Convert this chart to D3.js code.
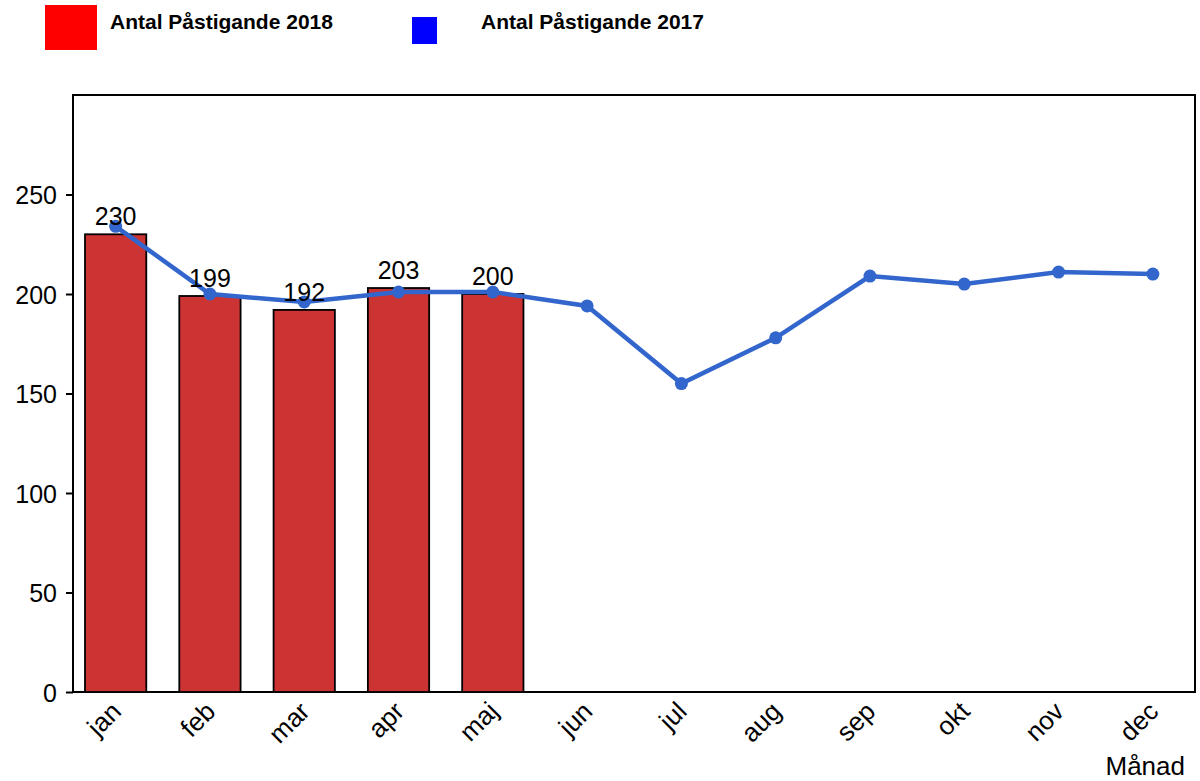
<!DOCTYPE html>
<html>
<head>
<meta charset="utf-8">
<script src="https://cdn.jsdelivr.net/npm/d3@7"></script>
<style>
  body { margin: 0; background: #fff; }
  svg { display: block; font-family: "Liberation Sans", Arial, sans-serif; }
</style>
</head>
<body>
<svg id="chart" width="1200" height="781"></svg>
<script>
// data
var months = ["jan", "feb", "mar", "apr", "maj", "jun", "jul", "aug", "sep", "okt", "nov", "dec"];
var values2018 = [230, 199, 192, 203, 200];
var values2017 = [234, 200, 196, 201, 201, 194, 155, 178, 209, 205, 211, 210];
var yTicks = [0, 50, 100, 150, 200, 250];
var seriesNames = ["Antal Påstigande 2018", "Antal Påstigande 2017"];

var svg = d3.select("#chart");

var plotLeft = 73, plotRight = 1195, plotTop = 95, plotBottom = 692;

var x = d3.scaleBand()
    .domain(months)
    .range([68.5, 1200])
    .paddingInner(0.35)
    .paddingOuter(0.175);

var y = d3.scaleLinear()
    .domain([0, 300])
    .range([plotBottom, plotTop]);

// frame
svg.append("rect")
    .attr("x", plotLeft)
    .attr("y", plotTop)
    .attr("width", plotRight - plotLeft)
    .attr("height", plotBottom - plotTop)
    .style("fill", "none")
    .style("stroke", "#000")
    .style("stroke-width", 2);

// y axis
var yAxis = d3.axisLeft(y).tickValues(yTicks).tickSize(7).tickPadding(9);
var yg = svg.append("g")
    .attr("transform", "translate(" + plotLeft + ",0)")
    .call(yAxis);
yg.select(".domain").remove();
yg.selectAll("line").style("stroke", "#000").style("stroke-width", 2);
yg.selectAll("text")
    .style("font-size", "25px")
    .style("font-family", "Liberation Sans, Arial, sans-serif")
    .style("fill", "#000")
    .attr("dy", "0.36em");

// x labels
svg.append("g").selectAll("text")
    .data(months)
    .enter().append("text")
    .attr("transform", function (d) {
        return "translate(" + (x(d) + x.bandwidth() / 2 + 7) + "," + 713 + ") rotate(-45)";
    })
    .attr("text-anchor", "end")
    .style("font-size", "26px")
    .style("fill", "#000")
    .text(function (d) { return d; });

svg.append("text")
    .attr("x", 1185)
    .attr("y", 775)
    .attr("text-anchor", "end")
    .style("font-size", "26px")
    .style("fill", "#000")
    .text("Månad");

// bars 2018
svg.append("g").selectAll("rect")
    .data(values2018)
    .enter().append("rect")
    .attr("x", function (d, i) { return x(months[i]); })
    .attr("y", function (d) { return y(d); })
    .attr("width", x.bandwidth())
    .attr("height", function (d) { return plotBottom - y(d); })
    .style("fill", "#cc3333")
    .style("stroke", "#000")
    .style("stroke-width", 1.8);

// line 2017
var line = d3.line()
    .x(function (d, i) { return x(months[i]) + x.bandwidth() / 2; })
    .y(function (d) { return y(d); });

svg.append("path")
    .attr("d", line(values2017))
    .style("fill", "none")
    .style("stroke", "#3366cc")
    .style("stroke-width", 4.5);

svg.append("g").selectAll("circle")
    .data(values2017)
    .enter().append("circle")
    .attr("cx", function (d, i) { return x(months[i]) + x.bandwidth() / 2; })
    .attr("cy", function (d) { return y(d); })
    .attr("r", 6.5)
    .style("fill", "#3366cc");

// bar value labels
svg.append("g").selectAll("text")
    .data(values2018)
    .enter().append("text")
    .attr("x", function (d, i) { return x(months[i]) + x.bandwidth() / 2; })
    .attr("y", function (d) { return y(d) - 9; })
    .attr("text-anchor", "middle")
    .style("font-size", "25px")
    .style("fill", "#000")
    .text(function (d) { return d; });

// legend
svg.append("rect").attr("x", 45).attr("y", 5).attr("width", 52).attr("height", 45).style("fill", "#ff0000");
svg.append("text").attr("x", 110).attr("y", 29)
    .style("font-size", "21px").style("font-weight", "bold").style("fill", "#000")
    .text(seriesNames[0]);
svg.append("rect").attr("x", 412).attr("y", 17).attr("width", 25).attr("height", 27).style("fill", "#0000ff");
svg.append("text").attr("x", 481).attr("y", 29)
    .style("font-size", "21px").style("font-weight", "bold").style("fill", "#000")
    .text(seriesNames[1]);
</script>
</body>
</html>
